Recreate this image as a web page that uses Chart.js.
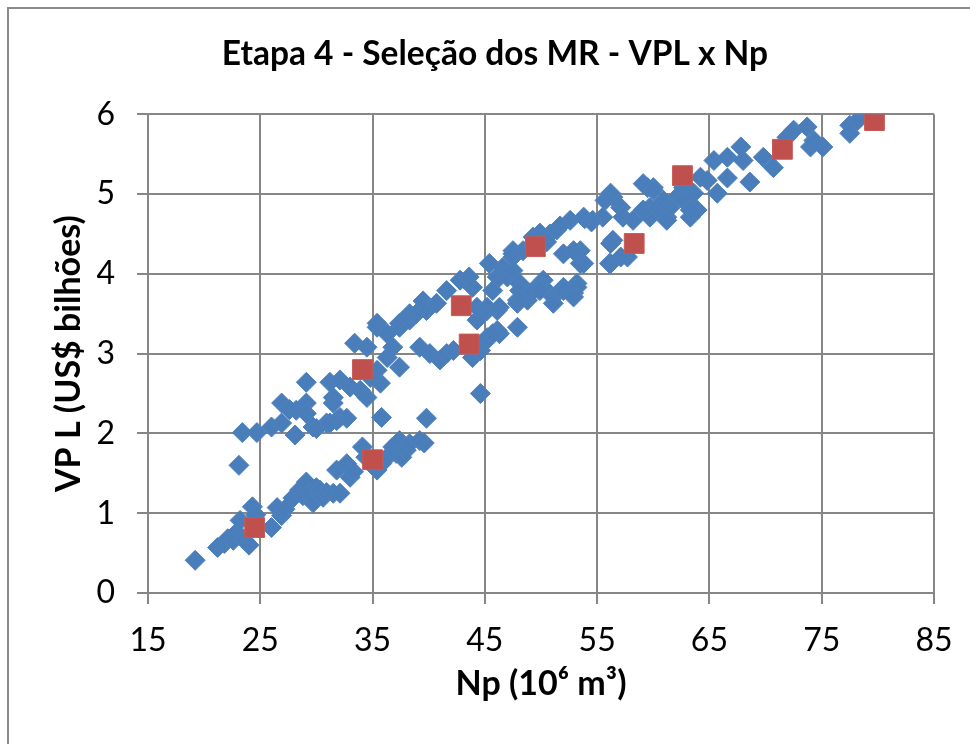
<!DOCTYPE html>
<html>
<head>
<meta charset="utf-8">
<script src="https://cdn.jsdelivr.net/npm/chart.js@4/dist/chart.umd.min.js"></script>
<style>
  html, body { margin: 0; padding: 0; background: #ffffff; }
  #wrap { width: 970px; height: 744px; position: relative; }
</style>
</head>
<body>
<div id="wrap"><canvas id="chart" width="970" height="744"></canvas></div>
<script>
// Todos os cenários: Np (10^6 m³) e VPL (US$ bilhões)
const npCenarios = [
  19.2, 21.2, 21.8, 22.1, 22.6, 22.9, 23.2, 23.6, 24.0, 24.3, 24.6, 26.0, 26.5, 26.9, 27.2, 27.9,
  28.5, 28.8, 29.1, 29.4, 29.7, 30.0, 30.3, 30.6, 30.9, 31.5, 31.8, 32.1, 32.7, 33.0, 33.3, 34.1,
  34.4, 35.4, 35.8, 36.3, 36.8, 37.1, 37.4, 37.6, 38.0, 38.3, 39.2, 39.6, 35.8, 39.8, 44.6,
  23.1, 23.4, 24.7, 26.0, 26.9, 28.1, 28.2, 29.7, 30.9, 31.8, 26.9, 27.6, 29.1, 31.5, 29.1, 29.1,
  30.0, 31.2, 32.1, 32.7, 31.2, 32.1, 33.0, 31.5, 33.9, 34.5, 35.7, 35.4, 34.8,
  33.4, 34.5, 35.4, 35.4, 36.3, 36.3, 36.8, 37.4, 37.4, 37.4, 38.3, 38.3, 38.9, 39.8, 39.2, 39.5,
  40.1, 40.7, 41.0, 41.6, 41.6, 42.2, 42.8, 43.6, 43.9, 43.9, 44.6, 45.2, 45.2, 44.3, 44.3, 45.2,
  45.2, 46.1, 46.3, 46.1, 47.9, 46.3, 45.7, 45.4, 46.1, 46.3, 47.0, 46.6, 47.5, 47.5, 47.5, 48.1,
  47.9, 47.9, 48.1, 48.4, 48.8, 49.0, 49.3, 49.3, 49.3, 49.9, 50.2, 50.2, 50.8, 51.1, 51.4, 52.0,
  52.6, 52.9, 53.2, 53.5, 53.8, 53.8, 54.6, 55.5, 56.1, 56.4, 56.4, 56.2, 57.1, 57.3, 57.7, 58.2,
  59.1, 60.0, 59.7, 59.7, 60.9, 61.2, 62.1, 62.7, 63.3, 63.9, 59.5, 60.0, 59.1, 60.4, 60.9, 61.5,
  61.2, 62.7, 63.3, 63.6, 64.2, 64.8, 65.7, 65.4, 66.6, 67.8, 68.0, 66.6, 68.6, 69.8, 70.7, 71.9,
  72.5, 73.7, 74.3, 75.1, 74.0, 77.5, 77.5, 78.2, 79.3,
  47.5, 52.0, 52.9, 53.5, 56.2, 57.1, 56.2, 48.1, 49.9, 51.1, 52.0, 53.2, 52.9, 45.7, 44.6,
  49.9, 51.7, 53.9, 54.5, 55.7, 50.5
];
const vplCenarios = [
  0.41, 0.57, 0.62, 0.68, 0.66, 0.76, 0.91, 0.66, 0.60, 1.08, 0.98, 0.82, 1.07, 0.97, 1.05, 1.19,
  1.29, 1.22, 1.39, 1.25, 1.13, 1.32, 1.29, 1.20, 1.26, 1.25, 1.54, 1.25, 1.62, 1.45, 1.52, 1.83,
  1.70, 1.54, 1.62, 1.70, 1.83, 1.75, 1.91, 1.70, 1.79, 1.87, 1.91, 1.88, 2.20, 2.19, 2.50,
  1.60, 2.01, 2.01, 2.08, 2.13, 1.98, 2.29, 2.08, 2.13, 2.16, 2.38, 2.30, 2.38, 2.38, 2.64, 2.25,
  2.06, 2.13, 2.20, 2.19, 2.64, 2.67, 2.58, 2.45, 2.54, 2.45, 2.63, 2.79, 2.70,
  3.13, 3.08, 3.33, 3.38, 2.95, 3.25, 3.08, 2.83, 3.33, 3.38, 3.42, 3.50, 3.50, 3.54, 3.08, 3.66,
  3.00, 3.63, 2.92, 3.00, 3.79, 3.04, 3.92, 3.96, 3.83, 2.95, 3.04, 3.17, 3.20, 3.42, 3.58, 3.54,
  3.58, 3.54, 3.25, 3.29, 3.33, 3.58, 3.79, 4.13, 3.96, 3.96, 3.96, 4.08, 4.04, 4.21, 4.29, 3.88,
  3.67, 3.63, 3.79, 4.29, 3.67, 3.76, 3.79, 4.38, 4.46, 3.83, 3.92, 3.83, 4.50, 3.71, 4.55, 3.83,
  4.67, 3.76, 3.88, 4.29, 4.13, 4.71, 4.67, 4.71, 4.13, 4.42, 4.96, 5.01, 4.83, 4.71, 4.21, 4.67,
  5.13, 5.08, 4.83, 4.71, 4.88, 4.71, 4.96, 5.08, 4.71, 4.80, 5.08, 5.05, 4.80, 4.83, 4.92, 4.83,
  4.67, 4.92, 4.80, 5.01, 5.21, 5.17, 5.01, 5.42, 5.46, 5.59, 5.42, 5.20, 5.15, 5.46, 5.33, 5.71,
  5.80, 5.84, 5.67, 5.59, 5.59, 5.76, 5.86, 5.92, 5.99,
  4.25, 4.25, 4.29, 4.13, 4.38, 4.21, 4.13, 3.67, 3.79, 3.63, 3.79, 3.83, 3.71, 3.25, 3.04,
  4.51, 4.60, 4.69, 4.65, 4.92, 4.40
];

// Modelos representativos (MR) selecionados
const npMR  = [24.5, 34.1, 35.0, 42.9, 43.6, 49.5, 58.3, 62.6, 71.5, 79.7];
const vplMR = [0.82, 2.80, 1.67, 3.60, 3.12, 4.34, 4.38, 5.23, 5.56, 5.92];

const xTickValues = [15, 25, 35, 45, 55, 65, 75, 85];
const yTickValues = [0, 1, 2, 3, 4, 5, 6];

const FONT = 'Lato';
const GRID = '#868686';

function toPoints(xs, ys) {
  return xs.map((x, i) => ({ x: x, y: ys[i] }));
}

// Moldura externa da área do gráfico
const framePlugin = {
  id: 'frame',
  beforeDraw(chart) {
    const ctx = chart.ctx;
    ctx.save();
    ctx.fillStyle = '#ffffff';
    ctx.fillRect(0, 0, chart.width, chart.height);
    ctx.strokeStyle = '#8a8a8a';
    ctx.lineWidth = 2;
    ctx.strokeRect(8, 8, chart.width + 40, chart.height + 40);
    ctx.restore();
  }
};

function draw() {
  new Chart(document.getElementById('chart'), {
    type: 'scatter',
    data: {
      datasets: [
        {
          label: 'MR',
          data: toPoints(npMR, vplMR),
          pointStyle: 'rect',
          pointRadius: 14,
          pointHoverRadius: 14,
          backgroundColor: '#c0504d',
          borderColor: '#c55a57',
          borderWidth: 1,
          order: 0
        },
        {
          label: 'Cenários',
          data: toPoints(npCenarios, vplCenarios),
          pointStyle: 'rectRot',
          pointRadius: 10,
          pointHoverRadius: 10,
          backgroundColor: '#4a7ebb',
          borderColor: '#4f82be',
          borderWidth: 1,
          order: 1
        }
      ]
    },
    options: {
      responsive: false,
      animation: false,
      devicePixelRatio: 1,
      layout: { padding: { top: 0, left: 56, right: 36, bottom: 0 } },
      plugins: {
        legend: { display: false },
        tooltip: { enabled: false },
        title: {
          display: true,
          text: 'Etapa 4 - Seleção dos MR - VPL x Np',
          color: '#000000',
          font: { family: FONT, size: 33.5, weight: 'bold', lineHeight: 1.2 },
          padding: { top: 34, bottom: 40 }
        }
      },
      scales: {
        x: {
          type: 'linear',
          min: xTickValues[0],
          max: xTickValues[xTickValues.length - 1],
          afterBuildTicks(scale) { scale.ticks = xTickValues.map(v => ({ value: v })); },
          afterFit(scale) { scale.height = 151; },
          grid: { color: GRID, lineWidth: 2, tickLength: 11, drawTicks: true },
          border: { color: GRID, width: 2 },
          ticks: { color: '#000000', padding: 17, maxRotation: 0, font: { family: FONT, size: 32 } },
          title: {
            display: true,
            text: 'Np (10⁶ m³)',
            color: '#000000',
            font: { family: FONT, size: 34, weight: 'bold', lineHeight: 1 },
            padding: { top: 0, bottom: 43 }
          }
        },
        y: {
          type: 'linear',
          min: yTickValues[0],
          max: yTickValues[yTickValues.length - 1],
          afterBuildTicks(scale) { scale.ticks = yTickValues.map(v => ({ value: v })); },
          afterFit(scale) { scale.width = 92; },
          grid: { color: GRID, lineWidth: 2, tickLength: 11, drawTicks: true },
          border: { color: GRID, width: 2 },
          ticks: { color: '#000000', padding: 22, font: { family: FONT, size: 32 } },
          title: {
            display: true,
            text: 'VP L (US$ bilhões)',
            color: '#000000',
            font: { family: FONT, size: 34, weight: 'bold', lineHeight: 1 },
            padding: { top: -4, bottom: 0 }
          }
        }
      }
    },
    plugins: [framePlugin]
  });
}

if (document.fonts && document.fonts.load) {
  Promise.all([
    document.fonts.load('bold 30px Lato'),
    document.fonts.load('32px Lato')
  ]).then(draw, draw);
} else {
  draw();
}
</script>
</body>
</html>
